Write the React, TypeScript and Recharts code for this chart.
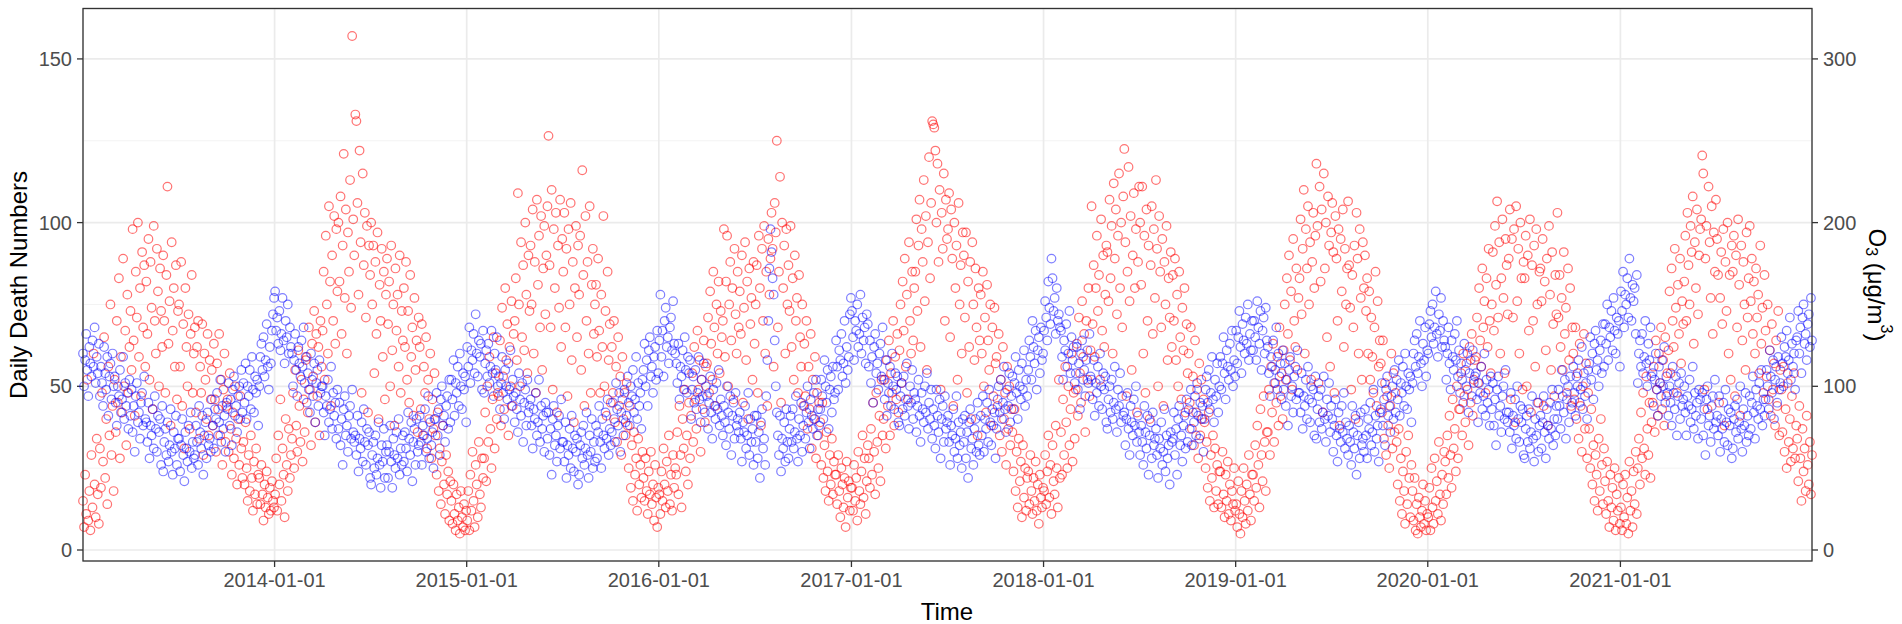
import React from 'react'
import { ScatterChart, Scatter, XAxis, YAxis, CartesianGrid } from 'recharts'

// days counted from 2013-01-01; each year's readings are spread evenly over that year
const yearStartDays = [0, 365, 730, 1095, 1461, 1826, 2191, 2556, 2922]
const yearLengths = [365, 365, 365, 366, 365, 365, 365, 366, 365]
const yearTickDays = [365, 730, 1095, 1461, 1826, 2191, 2556, 2922]
const yearTickLabels = ['2014-01-01', '2015-01-01', '2016-01-01', '2017-01-01', '2018-01-01', '2019-01-01', '2020-01-01', '2021-01-01']
const deathTicks = [0, 50, 100, 150]
const deathMinorTicks = [25, 75, 125]
const o3Ticks = [0, 100, 200, 300]

// daily death numbers (left axis), one row per month
const deaths2013 = [
  60, 50, 58, 66, 55, 47, 62, 57, 53, 64, 56, 68, 51, 59, 54, 63,
  47, 56, 51, 44, 62, 54, 49, 59, 41, 53, 57, 46, 60, 50,
  53, 45, 38, 50, 47, 55, 42, 46, 59, 40, 51, 44, 48, 37, 52,
  41, 49, 36, 44, 30, 47, 51, 39, 42, 34, 45, 48, 38, 53, 40,
  39, 33, 45, 28, 38, 35, 43, 31, 47, 37, 30, 41, 36, 40, 26, 44,
  24, 33, 37, 29, 39, 27, 32, 43, 30, 23, 36, 31, 41, 26, 34,
  34, 24, 32, 40, 29, 21, 36, 31, 27, 38, 30, 42, 25, 33, 28,
  29, 38, 33, 26, 44, 36, 31, 41, 23, 35, 39, 28, 42, 32, 34, 30,
  46, 38, 31, 43, 40, 48, 35, 39, 52, 33, 44, 37, 41, 30, 45,
  43, 51, 38, 46, 32, 49, 53, 41, 44, 36, 47, 50, 40, 55, 42,
  51, 45, 57, 40, 50, 47, 55, 43, 59, 49, 42, 53, 48, 52, 38,
  50, 59, 63, 55, 65, 53, 58, 69, 56, 49, 62, 57, 67, 72, 77,
]
const deaths2014 = [
  79, 67, 71, 63, 73, 61, 66, 77, 64, 57, 70, 65, 75, 60, 68, 62,
  60, 50, 58, 66, 55, 47, 62, 57, 53, 64, 56, 68, 51, 59,
  45, 54, 49, 42, 60, 52, 47, 57, 39, 51, 55, 44, 58, 48, 50,
  50, 42, 35, 47, 44, 52, 39, 43, 56, 37, 48, 41, 45, 34, 49,
  37, 45, 32, 40, 26, 43, 47, 35, 38, 30, 41, 44, 34, 49, 36, 33,
  35, 29, 41, 24, 34, 31, 39, 27, 43, 33, 26, 37, 32, 36, 22,
  20, 29, 33, 25, 35, 23, 28, 39, 26, 19, 32, 27, 37, 22, 30,
  32, 22, 30, 38, 27, 19, 34, 29, 25, 36, 28, 40, 23, 31, 26, 35,
  27, 36, 31, 24, 42, 34, 29, 39, 21, 33, 37, 26, 40, 30, 32,
  41, 33, 26, 38, 35, 43, 30, 34, 47, 28, 39, 32, 36, 25, 40,
  40, 48, 35, 43, 29, 46, 50, 38, 41, 33, 44, 47, 37, 52, 39,
  52, 46, 58, 41, 51, 48, 56, 44, 60, 50, 43, 54, 49, 53, 39,
]
const deaths2015 = [
  62, 56, 68, 51, 61, 58, 66, 54, 72, 60, 53, 64, 59, 63, 49, 67,
  48, 57, 61, 53, 63, 51, 56, 67, 54, 47, 60, 55, 65, 50,
  53, 43, 51, 59, 48, 40, 55, 50, 46, 57, 49, 61, 44, 52, 47,
  39, 48, 43, 36, 54, 46, 41, 51, 33, 45, 49, 38, 52, 42, 44,
  46, 38, 31, 43, 40, 48, 35, 39, 52, 33, 44, 37, 41, 30, 45, 42,
  34, 42, 29, 37, 23, 40, 44, 32, 35, 27, 38, 41, 31, 46, 33,
  33, 27, 39, 22, 32, 29, 37, 25, 41, 31, 24, 35, 30, 34, 20,
  23, 32, 36, 28, 38, 26, 31, 42, 29, 22, 35, 30, 40, 25, 33, 27,
  38, 28, 36, 44, 33, 25, 40, 35, 31, 42, 34, 46, 29, 37, 32,
  36, 45, 40, 33, 51, 43, 38, 48, 30, 42, 46, 35, 49, 39, 41,
  53, 45, 38, 50, 47, 55, 42, 46, 59, 40, 51, 44, 48, 37, 52,
  55, 63, 50, 58, 44, 61, 65, 53, 56, 48, 59, 62, 52, 67, 54,
]
const deaths2016 = [
  64, 78, 59, 67, 53, 70, 74, 62, 65, 57, 68, 71, 61, 76, 63, 60,
  57, 51, 63, 46, 56, 53, 61, 49, 65, 55, 48, 59, 54, 58,
  40, 49, 53, 45, 55, 43, 48, 59, 46, 39, 52, 47, 57, 42, 50,
  47, 37, 45, 53, 42, 34, 49, 44, 40, 51, 43, 55, 38, 46, 41,
  35, 44, 39, 32, 50, 42, 37, 47, 29, 41, 45, 34, 48, 38, 40, 36,
  42, 34, 27, 39, 36, 44, 31, 35, 48, 29, 40, 33, 37, 26, 41,
  33, 41, 28, 36, 22, 39, 43, 31, 34, 26, 47, 58, 70, 86, 98,
  91, 83, 78, 64, 50, 42, 35, 29, 41, 24, 34, 31, 39, 27, 43, 33,
  28, 37, 41, 33, 43, 31, 36, 47, 34, 27, 40, 35, 45, 30, 38,
  44, 34, 42, 50, 39, 31, 46, 41, 37, 48, 40, 52, 35, 43, 38,
  43, 52, 47, 40, 58, 50, 45, 55, 37, 49, 53, 42, 56, 46, 48,
  64, 56, 49, 61, 58, 66, 53, 57, 70, 51, 62, 55, 59, 72, 77,
]
const deaths2017 = [
  73, 65, 58, 70, 67, 75, 62, 66, 78, 60, 71, 64, 68, 57, 72, 69,
  56, 64, 51, 59, 45, 62, 66, 54, 57, 49, 60, 63, 53, 68,
  52, 46, 58, 41, 51, 48, 56, 44, 60, 50, 43, 54, 49, 53, 39,
  38, 47, 51, 43, 53, 41, 46, 57, 44, 37, 50, 45, 55, 40, 48,
  46, 36, 44, 52, 41, 33, 48, 43, 39, 50, 42, 54, 37, 45, 40, 49,
  34, 43, 38, 31, 49, 41, 36, 46, 28, 40, 44, 33, 47, 37, 39,
  41, 33, 26, 38, 35, 43, 30, 34, 47, 28, 39, 32, 36, 25, 40,
  33, 41, 28, 36, 22, 39, 43, 31, 34, 26, 37, 40, 30, 45, 32, 29,
  41, 35, 47, 30, 40, 37, 45, 33, 49, 39, 32, 43, 38, 42, 28,
  37, 46, 50, 42, 52, 40, 45, 56, 43, 36, 49, 44, 54, 39, 47,
  53, 43, 51, 59, 48, 40, 55, 50, 46, 57, 49, 61, 44, 52, 47,
  55, 64, 59, 52, 70, 62, 57, 67, 49, 61, 65, 54, 68, 58, 60,
]
const deaths2018 = [
  67, 76, 71, 64, 82, 74, 69, 89, 83, 73, 77, 66, 80, 70, 72, 68,
  67, 59, 52, 64, 61, 69, 56, 60, 73, 54, 65, 58, 62, 51,
  54, 62, 49, 57, 43, 60, 64, 52, 55, 47, 58, 61, 51, 66, 53,
  52, 46, 58, 41, 51, 48, 56, 44, 60, 50, 43, 54, 49, 53, 39,
  37, 46, 50, 42, 52, 40, 45, 56, 43, 36, 49, 44, 54, 39, 47, 41,
  42, 32, 40, 48, 37, 29, 44, 39, 35, 46, 38, 50, 33, 41, 36,
  29, 38, 33, 26, 44, 36, 31, 41, 23, 35, 39, 28, 42, 32, 34,
  37, 29, 22, 34, 31, 39, 26, 30, 43, 24, 35, 28, 32, 20, 36, 33,
  34, 42, 29, 37, 23, 40, 44, 32, 35, 27, 38, 41, 31, 46, 33,
  43, 37, 49, 32, 42, 39, 47, 35, 51, 41, 34, 45, 40, 44, 30,
  40, 49, 53, 45, 55, 43, 48, 59, 46, 39, 52, 47, 57, 42, 50,
  59, 49, 57, 65, 54, 46, 61, 56, 52, 63, 55, 67, 50, 58, 53,
]
const deaths2019 = [
  67, 57, 65, 73, 62, 54, 69, 64, 60, 71, 63, 75, 58, 66, 61, 70,
  61, 70, 65, 58, 76, 68, 63, 73, 55, 67, 71, 60, 74, 64,
  62, 54, 47, 59, 56, 64, 51, 55, 68, 49, 60, 53, 57, 46, 61,
  49, 57, 44, 52, 38, 55, 59, 47, 50, 42, 53, 56, 46, 61, 48,
  48, 42, 54, 37, 47, 44, 52, 40, 56, 46, 39, 50, 45, 49, 35, 53,
  34, 43, 47, 39, 49, 37, 42, 53, 40, 33, 46, 41, 51, 36, 44,
  40, 30, 38, 46, 35, 27, 42, 37, 33, 44, 36, 48, 31, 39, 34,
  29, 38, 33, 26, 44, 36, 31, 41, 23, 35, 39, 28, 42, 32, 34, 30,
  43, 35, 28, 40, 37, 45, 32, 36, 49, 30, 41, 34, 38, 27, 42,
  43, 51, 38, 46, 32, 49, 53, 41, 44, 36, 47, 50, 40, 55, 42,
  52, 46, 58, 41, 51, 48, 56, 44, 60, 50, 43, 54, 49, 53, 39,
  51, 60, 64, 56, 66, 54, 59, 70, 57, 50, 63, 58, 68, 53, 61,
]
const deaths2020 = [
  60, 69, 73, 65, 75, 63, 68, 79, 66, 59, 72, 67, 77, 62, 70, 64,
  62, 52, 60, 68, 57, 49, 64, 59, 55, 66, 58, 70, 53, 61,
  48, 57, 52, 45, 63, 55, 50, 60, 42, 54, 58, 47, 61, 51, 53,
  54, 46, 39, 51, 48, 56, 43, 47, 60, 41, 52, 45, 49, 38, 53,
  43, 51, 38, 46, 32, 49, 53, 41, 44, 36, 47, 50, 40, 55, 42, 39,
  42, 36, 48, 31, 41, 38, 46, 34, 50, 40, 33, 44, 39, 43, 29,
  28, 37, 41, 33, 43, 31, 36, 47, 34, 27, 40, 35, 45, 30, 38,
  41, 31, 39, 47, 36, 28, 43, 38, 34, 45, 37, 49, 32, 40, 35, 44,
  40, 49, 44, 37, 55, 47, 42, 52, 34, 46, 50, 39, 53, 43, 45,
  56, 48, 41, 53, 50, 58, 45, 49, 62, 43, 54, 47, 51, 40, 55,
  57, 65, 52, 60, 46, 63, 67, 55, 58, 50, 61, 64, 54, 69, 56,
  69, 63, 75, 58, 68, 65, 73, 61, 77, 67, 60, 71, 66, 70, 56,
]
const deaths2021 = [
  79, 73, 85, 68, 78, 75, 83, 71, 89, 77, 70, 81, 76, 80, 66, 84,
  51, 60, 64, 56, 66, 54, 59, 70, 57, 50, 63, 58, 68, 53,
  54, 44, 52, 60, 49, 41, 56, 51, 47, 58, 50, 62, 45, 53, 48,
  41, 50, 45, 38, 56, 48, 43, 53, 35, 47, 51, 40, 54, 44, 46,
  50, 42, 35, 47, 44, 52, 39, 43, 56, 37, 48, 41, 45, 34, 49, 46,
  40, 48, 35, 43, 29, 46, 50, 38, 41, 33, 44, 47, 37, 52, 39,
  41, 35, 47, 30, 40, 37, 45, 33, 49, 39, 32, 43, 38, 42, 28,
  31, 40, 44, 36, 46, 34, 39, 50, 37, 30, 43, 38, 48, 33, 41, 35,
  47, 37, 45, 53, 42, 34, 49, 44, 40, 51, 43, 55, 38, 46, 41,
  46, 55, 50, 43, 61, 53, 48, 58, 40, 52, 56, 45, 59, 49, 51,
  65, 57, 50, 62, 59, 67, 54, 58, 71, 52, 63, 56, 60, 49, 64,
  65, 73, 60, 68, 54, 71, 75, 63, 66, 58, 69, 72, 62, 77, 64,
]

// O3 in µg/m3 (right axis), one row per month
const o3_2013 = [
  30, 14, 46, 22, 104, 18, 36, 12, 58, 26, 120, 40, 20, 68, 34, 16,
  62, 38, 96, 54, 130, 44, 80, 28, 112, 70, 150, 58, 88, 36,
  104, 72, 140, 90, 166, 56, 118, 84, 178, 100, 134, 64, 156, 96, 124,
  146, 110, 196, 128, 82, 170, 142, 200, 118, 160, 94, 182, 136, 174, 112,
  164, 132, 190, 104, 176, 148, 86, 198, 140, 120, 184, 158, 100, 172, 146, 124,
  180, 140, 96, 168, 222, 126, 152, 76, 188, 134, 160, 112, 174, 92, 146,
  150, 112, 176, 88, 138, 62, 160, 124, 100, 144, 74, 132, 168, 96, 120,
  136, 84, 124, 140, 68, 112, 96, 138, 58, 120, 104, 80, 132, 70, 116, 92,
  110, 76, 126, 92, 60, 114, 86, 132, 70, 104, 52, 98, 120, 66, 88,
  92, 60, 108, 74, 46, 84, 56, 100, 68, 40, 80, 52, 94, 62, 44,
  66, 40, 78, 50, 30, 58, 36, 70, 44, 24, 54, 34, 62, 28, 46,
  44, 28, 52, 34, 18, 40, 26, 48, 32, 22, 38, 24, 42, 30, 26,
]
const o3_2014 = [
  34, 56, 24, 70, 40, 92, 30, 62, 46, 20, 80, 52, 36, 74, 44, 58,
  68, 96, 50, 110, 76, 60, 122, 88, 66, 104, 54, 92, 72, 116,
  118, 84, 136, 98, 64, 126, 106, 146, 78, 132, 94, 124, 70, 140, 112,
  134, 170, 104, 192, 150, 120, 210, 164, 88, 180, 140, 204, 126, 196, 158,
  200, 164, 216, 132, 186, 242, 154, 208, 120, 194, 170, 226, 148, 314, 202, 180,
  266, 262, 212, 156, 244, 188, 96, 230, 174, 206, 142, 198, 84, 186, 168,
  200, 150, 186, 108, 176, 132, 194, 80, 162, 140, 184, 118, 170, 92, 156,
  178, 138, 164, 100, 186, 122, 150, 76, 172, 134, 156, 112, 180, 96, 146, 128,
  160, 124, 176, 104, 146, 90, 168, 118, 136, 82, 154, 110, 128, 72, 142,
  124, 86, 138, 70, 112, 96, 130, 62, 104, 80, 120, 56, 92, 74, 108,
  70, 46, 84, 36, 62, 28, 54, 76, 40, 22, 58, 34, 48, 18, 42,
  30, 16, 40, 22, 12, 34, 18, 26, 10, 36, 20, 14, 28, 12, 24,
]
const o3_2015 = [
  18, 36, 12, 46, 24, 60, 30, 14, 52, 40, 20, 66, 34, 26, 56, 44,
  56, 84, 42, 100, 66, 118, 74, 50, 92, 130, 62, 108, 80, 96,
  94, 128, 76, 148, 106, 86, 160, 116, 138, 70, 124, 100, 152, 88, 132,
  140, 166, 116, 218, 150, 100, 188, 130, 174, 122, 200, 156, 108, 180, 146,
  186, 150, 208, 120, 176, 96, 214, 162, 192, 136, 204, 110, 172, 198, 144, 180,
  210, 253, 174, 136, 220, 98, 196, 160, 206, 84, 186, 148, 214, 124, 190,
  170, 206, 136, 184, 94, 196, 150, 212, 116, 176, 78, 160, 198, 130, 186,
  156, 192, 110, 232, 168, 88, 204, 140, 176, 120, 210, 96, 162, 184, 132, 150,
  162, 118, 178, 134, 96, 156, 124, 204, 100, 146, 82, 170, 116, 138, 90,
  124, 96, 140, 78, 112, 66, 130, 88, 106, 58, 118, 80, 96, 70, 102,
  76, 50, 88, 38, 64, 30, 72, 46, 56, 24, 68, 40, 52, 32, 60,
  44, 30, 56, 36, 22, 48, 34, 60, 28, 40, 18, 52, 32, 14, 38,
]
const o3_2016 = [
  34, 22, 48, 30, 62, 40, 26, 54, 36, 70, 28, 46, 24, 58, 38, 50,
  46, 72, 34, 88, 58, 26, 80, 62, 98, 48, 70, 40, 90, 56,
  82, 108, 66, 124, 92, 74, 134, 98, 116, 60, 104, 86, 128, 78, 112,
  114, 142, 96, 158, 126, 104, 170, 136, 88, 150, 120, 164, 108, 146, 130,
  140, 196, 118, 164, 192, 100, 150, 176, 128, 160, 92, 184, 144, 120, 170, 136,
  158, 132, 180, 90, 148, 188, 116, 164, 80, 172, 138, 154, 104, 176, 126,
  150, 174, 96, 192, 160, 76, 184, 140, 198, 120, 170, 88, 190, 156, 178,
  206, 184, 112, 212, 194, 250, 136, 170, 228, 90, 200, 160, 186, 120, 196, 150,
  174, 146, 198, 124, 166, 104, 180, 140, 154, 96, 168, 130, 112, 150, 88,
  126, 94, 140, 74, 112, 86, 132, 62, 104, 80, 118, 56, 96, 70, 90,
  78, 52, 90, 44, 64, 36, 72, 48, 30, 58, 40, 68, 34, 54, 46,
  46, 28, 58, 36, 20, 50, 40, 26, 44, 14, 54, 32, 42, 24, 38,
]
const o3_2017 = [
  38, 24, 52, 30, 44, 18, 60, 36, 28, 48, 70, 32, 56, 22, 42, 64,
  56, 38, 74, 46, 90, 60, 34, 96, 66, 50, 82, 42, 104, 70,
  80, 104, 62, 116, 88, 128, 70, 108, 96, 140, 76, 118, 92, 132, 84,
  122, 150, 102, 164, 134, 178, 112, 156, 92, 188, 140, 120, 170, 128, 160,
  170, 202, 146, 186, 214, 124, 196, 176, 226, 152, 204, 110, 188, 240, 166, 212,
  262, 260, 258, 244, 200, 236, 176, 220, 98, 206, 184, 230, 140, 214, 190,
  196, 218, 130, 208, 178, 88, 200, 160, 186, 104, 212, 150, 174, 120, 194,
  180, 142, 194, 96, 164, 124, 176, 80, 188, 150, 116, 172, 136, 70, 160, 128,
  156, 120, 170, 100, 142, 84, 162, 128, 110, 150, 76, 136, 94, 148, 114,
  118, 88, 132, 70, 104, 60, 124, 80, 96, 52, 112, 74, 100, 64, 86,
  72, 48, 86, 36, 60, 26, 68, 42, 54, 20, 64, 32, 50, 24, 44,
  48, 28, 58, 36, 22, 44, 30, 54, 24, 40, 16, 46, 32, 26, 38,
]
const o3_2018 = [
  36, 58, 28, 48, 70, 32, 52, 22, 64, 42, 34, 76, 50, 26, 104, 44,
  72, 46, 92, 58, 112, 78, 50, 100, 64, 86, 120, 54, 96, 68,
  98, 126, 82, 142, 108, 90, 152, 118, 132, 72, 140, 104, 160, 94, 122,
  210, 138, 174, 118, 160, 192, 146, 168, 104, 202, 134, 180, 124, 156, 186,
  182, 152, 214, 166, 198, 120, 224, 178, 208, 144, 192, 230, 160, 200, 136, 216,
  245, 188, 94, 170, 234, 152, 204, 110, 180, 218, 160, 196, 84, 176, 222,
  200, 162, 222, 120, 192, 96, 208, 140, 186, 80, 174, 210, 132, 196, 154,
  226, 184, 100, 204, 170, 136, 190, 88, 176, 150, 198, 116, 166, 142, 182, 124,
  168, 140, 178, 116, 156, 100, 170, 130, 92, 148, 122, 160, 84, 138, 108,
  120, 90, 136, 74, 106, 64, 128, 84, 98, 56, 114, 70, 104, 80, 92,
  78, 50, 66, 38, 84, 30, 58, 44, 70, 26, 62, 36, 52, 28, 48,
  48, 26, 60, 34, 20, 46, 30, 54, 22, 40, 18, 36, 28, 50, 24,
]
const o3_2019 = [
  28, 14, 42, 22, 10, 36, 20, 50, 30, 16, 40, 24, 58, 34, 18, 46,
  46, 30, 64, 38, 76, 52, 26, 86, 58, 42, 94, 66, 36, 72,
  72, 98, 58, 112, 84, 126, 66, 102, 90, 118, 76, 136, 94, 108, 80,
  122, 150, 104, 166, 132, 180, 116, 158, 98, 190, 140, 124, 172, 110, 154,
  166, 202, 144, 184, 220, 120, 196, 172, 210, 150, 188, 104, 176, 206, 160, 192,
  236, 198, 102, 222, 164, 208, 84, 230, 172, 200, 130, 216, 186, 112, 194,
  212, 182, 96, 204, 178, 140, 196, 76, 190, 158, 208, 124, 184, 150, 172,
  213, 174, 148, 98, 168, 136, 186, 80, 206, 178, 120, 196, 154, 104, 188, 160,
  180, 146, 166, 120, 158, 104, 142, 118, 96, 136, 170, 88, 152, 112, 128,
  114, 84, 128, 68, 102, 58, 94, 76, 50, 88, 120, 62, 108, 72, 96,
  66, 40, 74, 30, 56, 22, 48, 36, 16, 60, 28, 70, 44, 20, 52,
  36, 18, 44, 12, 28, 10, 32, 20, 14, 24, 40, 16, 30, 12, 22,
]
const o3_2020 = [
  20, 38, 12, 50, 26, 16, 56, 30, 42, 22, 66, 34, 18, 46, 28, 60,
  54, 34, 70, 44, 82, 58, 38, 92, 62, 74, 48, 100, 56, 86,
  86, 108, 70, 120, 94, 78, 114, 98, 64, 124, 90, 132, 82, 104, 116,
  118, 142, 102, 160, 128, 112, 172, 136, 152, 96, 166, 124, 184, 140, 108,
  150, 182, 134, 198, 162, 213, 142, 188, 120, 166, 202, 154, 108, 190, 174, 144,
  178, 208, 92, 190, 142, 196, 78, 210, 152, 184, 120, 200, 166, 98, 176,
  166, 192, 100, 180, 134, 202, 84, 174, 140, 186, 112, 196, 150, 90, 170,
  172, 152, 190, 88, 164, 122, 178, 76, 198, 156, 110, 182, 138, 94, 168, 144,
  206, 142, 168, 124, 154, 110, 182, 132, 148, 96, 172, 116, 160, 88, 136,
  120, 92, 136, 80, 108, 68, 126, 88, 60, 100, 132, 74, 114, 56, 96,
  74, 50, 86, 40, 64, 30, 58, 46, 24, 68, 36, 80, 52, 28, 62,
  42, 22, 54, 30, 14, 46, 26, 38, 18, 50, 12, 34, 24, 44, 16,
]
const o3_2021 = [
  26, 12, 40, 20, 46, 16, 32, 10, 54, 24, 36, 14, 48, 28, 60, 22,
  50, 68, 40, 84, 56, 96, 62, 46, 106, 74, 58, 90, 44, 78,
  90, 112, 72, 128, 98, 82, 120, 102, 136, 86, 116, 76, 130, 94, 108,
  122, 158, 108, 172, 140, 124, 184, 148, 96, 162, 132, 178, 114, 152, 138,
  164, 192, 140, 206, 174, 150, 198, 182, 216, 126, 188, 160, 208, 144, 180, 196,
  202, 241, 230, 98, 178, 198, 86, 222, 188, 154, 210, 132, 194, 170, 214,
  190, 168, 90, 154, 182, 138, 196, 76, 176, 146, 200, 120, 168, 104, 186,
  170, 192, 94, 180, 136, 202, 162, 82, 186, 128, 176, 150, 110, 194, 142, 166,
  198, 152, 178, 132, 164, 120, 172, 142, 156, 108, 186, 126, 148, 96, 168,
  134, 106, 150, 92, 122, 82, 138, 98, 114, 76, 128, 88, 146, 70, 110,
  98, 72, 112, 60, 86, 50, 102, 66, 80, 54, 94, 62, 108, 56, 76,
  68, 42, 88, 56, 30, 74, 48, 62, 36, 82, 52, 40, 66, 34, 58,
]

const deathsByYear = [deaths2013, deaths2014, deaths2015, deaths2016, deaths2017, deaths2018, deaths2019, deaths2020, deaths2021]
const o3ByYear = [o3_2013, o3_2014, o3_2015, o3_2016, o3_2017, o3_2018, o3_2019, o3_2020, o3_2021]

function toPoints(byYear: number[][]) {
  return byYear.flatMap((vals, y) =>
    vals.map((value, i) => ({ day: yearStartDays[y] + ((i + 0.5) * yearLengths[y]) / vals.length, value }))
  )
}

const deathPoints = toPoints(deathsByYear)
const o3Points = toPoints(o3ByYear)

const W = 1902
const H = 624
const FONT = '"Liberation Sans", Arial, Helvetica, sans-serif'
const tickStyle = { fill: '#4d4d4d', fontSize: 20, fontFamily: FONT }

const redCircle = (p: any) => (
  <circle cx={p.cx} cy={p.cy} r={4.3} fill="none" stroke="#ff0000" strokeOpacity={0.55} strokeWidth={1.2} />
)
const blueCircle = (p: any) => (
  <circle cx={p.cx} cy={p.cy} r={4.3} fill="none" stroke="#0000ff" strokeOpacity={0.5} strokeWidth={1.2} />
)

const labelForDay = (d: number) => yearTickLabels[yearTickDays.indexOf(d)] ?? ''

export default function App() {
  // plot panel: left 83, right 1812, top 8.5, bottom 561
  const left = 83
  const right = 90
  const top = 8.5
  const bottom = 63
  return (
    <div style={{ position: 'absolute', left: 0, top: 0, width: W, height: H, background: '#fff' }}>
      <ScatterChart width={W} height={H} margin={{ top, right: 0, bottom: 0, left: 0 }}>
        <CartesianGrid yAxisId="left" horizontalValues={deathMinorTicks} vertical={false} stroke="#f3f3f3" strokeWidth={1} />
        <CartesianGrid yAxisId="left" stroke="#ebebeb" strokeWidth={1.7} />
        <XAxis
          type="number"
          dataKey="day"
          domain={[1, 3284]}
          ticks={yearTickDays}
          tickFormatter={labelForDay}
          height={bottom}
          axisLine={false}
          tickLine={{ stroke: '#333', strokeWidth: 1.3 }}
          tickSize={6}
          tickMargin={6}
          tick={tickStyle}
          interval={0}
        />
        <YAxis
          yAxisId="left"
          type="number"
          dataKey="value"
          domain={[-3.36, 165.4]}
          ticks={deathTicks}
          width={left}
          axisLine={false}
          tickLine={{ stroke: '#333', strokeWidth: 1.3 }}
          tickSize={6}
          tickMargin={5}
          tick={tickStyle}
        />
        <YAxis
          yAxisId="right"
          orientation="right"
          type="number"
          dataKey="value"
          domain={[-6.72, 330.8]}
          ticks={o3Ticks}
          width={right}
          axisLine={false}
          tickLine={{ stroke: '#333', strokeWidth: 1.3 }}
          tickSize={6}
          tickMargin={5}
          tick={tickStyle}
        />
        <Scatter data={o3Points} yAxisId="right" shape={redCircle} isAnimationActive={false} />
        <Scatter data={deathPoints} yAxisId="left" shape={blueCircle} isAnimationActive={false} />
      </ScatterChart>
      <svg width={W} height={H} style={{ position: 'absolute', left: 0, top: 0, pointerEvents: 'none' }}>
        <rect x={left} y={top} width={W - left - right} height={H - top - bottom} fill="none" stroke="#333" strokeWidth={1.3} />
        <text
          x={18}
          y={285}
          transform="rotate(-90, 18, 285)"
          textAnchor="middle"
          dominantBaseline="central"
          fontFamily={FONT}
          fontSize={24}
          fill="#000"
        >
          Daily Death Numbers
        </text>
        <text x={947} y={620} textAnchor="middle" fontFamily={FONT} fontSize={24} fill="#000">
          Time
        </text>
        <text
          x={1877}
          y={285}
          transform="rotate(90, 1877, 285)"
          textAnchor="middle"
          dominantBaseline="central"
          fontFamily={FONT}
          fontSize={24}
          fill="#000"
        >
          O<tspan fontSize={16} dy={5}>3</tspan>
          <tspan fontSize={24} dy={-5}> (μg/m</tspan>
          <tspan fontSize={16} dy={-10}>3</tspan>
          <tspan fontSize={24} dy={10}>)</tspan>
        </text>
      </svg>
    </div>
  )
}
